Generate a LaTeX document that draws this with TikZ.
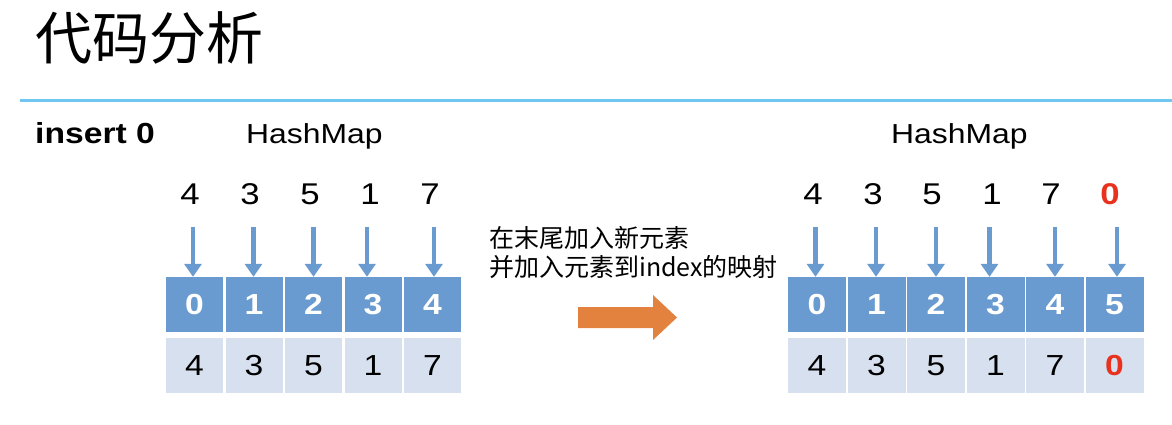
\documentclass[tikz,border=0pt]{standalone}
\usepackage{fontspec}
\setmainfont{Liberation Sans}[FakeStretch=1.16]
\newfontfamily\cjk{Noto Sans CJK SC}
\usetikzlibrary{arrows.meta}
\definecolor{idxblue}{HTML}{6A9BD0}
\definecolor{valblue}{HTML}{D6E0EE}
\definecolor{rulec}{HTML}{72C6F2}
\definecolor{orangec}{HTML}{E3823F}
\definecolor{redc}{HTML}{E8321E}
\tikzset{
  idxcell/.style={rectangle, fill=idxblue, minimum width=57, minimum height=55, inner sep=0, text=white, font=\fontsize{29}{29}\selectfont\bfseries},
  valcell/.style={rectangle, fill=valblue, minimum width=57, minimum height=55, inner sep=0, font=\fontsize{29}{29}\selectfont},
  topnum/.style={anchor=base, inner sep=0, font=\fontsize{30}{30}\selectfont},
  maparrow/.style={draw=idxblue, line width=4.5, -{Triangle[width=17pt,length=13pt]}},
  label/.style={anchor=base west, inner sep=0},
}
\begin{document}
\begin{tikzpicture}[x=1pt,y=-1pt]
\useasboundingbox (0,0) rectangle (1172,424);
% title
\node[anchor=west, inner sep=0, font=\cjk\fontsize{57}{57}\selectfont] (title) at (35,38) {代码分析};
\draw[rulec, line width=3] (20,100) -- (1172,100);
\node[label, font=\bfseries\fontsize{29}{29}\selectfont] (ins) at (35,143) {insert 0};
\node[label, font=\fontsize{27.5}{27.5}\selectfont] (hmL) at (246,143) {HashMap};
\node[label, font=\fontsize{27.5}{27.5}\selectfont] (hmR) at (891,143) {HashMap};

% left array
\foreach \i/\cx/\tx/\ax/\v in {0/194.5/190/193/4, 1/254/250/253.5/3, 2/313.5/310/313.5/5, 3/373/370/367/1, 4/432.5/430/434/7}{
  \node[idxcell] (li\i) at (\cx,304.5) {\i};
  \node[valcell] (lv\i) at (\cx,365.5) {\v};
  \node[topnum] (lt\i) at (\tx,204) {\v};
  \coordinate (la\i) at (\ax,227);
  \draw[maparrow] (la\i) -- (la\i |- li\i.north);
}

% right array
\foreach \i/\cx/\tx/\ax/\v in {0/817/813/815.5/4, 1/876.5/873/876/3, 2/936/932/936/5, 3/995.5/992/989.5/1, 4/1055/1051/1055/7}{
  \node[idxcell, minimum width=58] (ri\i) at (\cx,304.5) {\i};
  \node[valcell, minimum width=58] (rv\i) at (\cx,365.5) {\v};
  \node[topnum] (rt\i) at (\tx,204) {\v};
  \coordinate (ra\i) at (\ax,227);
  \draw[maparrow] (ra\i) -- (ra\i |- ri\i.north);
}
\node[idxcell, minimum width=58] (ri5) at (1114.5,304.5) {5};
\node[valcell, minimum width=58, text=redc, font=\fontsize{29}{29}\selectfont\bfseries] (rv5) at (1114.5,365.5) {0};
\node[topnum, text=redc, font=\fontsize{30}{30}\selectfont\bfseries] (rt5) at (1110,204) {0};
\coordinate (ra5) at (1117,227);
\draw[maparrow] (ra5) -- (ra5 |- ri5.north);

% middle text and arrow
\node[label, font=\cjk\fontsize{25}{25}\selectfont] (t1) at (489,247) {在末尾加入新元素};
\node[label, font=\cjk\fontsize{25}{25}\selectfont] (t2) at (489,276) {并加入元素到index的映射};
\fill[orangec] (578,307) -- (653,307) -- (653,295) -- (677,317.5) -- (653,340) -- (653,328) -- (578,328) -- cycle;
\end{tikzpicture}
\end{document}
